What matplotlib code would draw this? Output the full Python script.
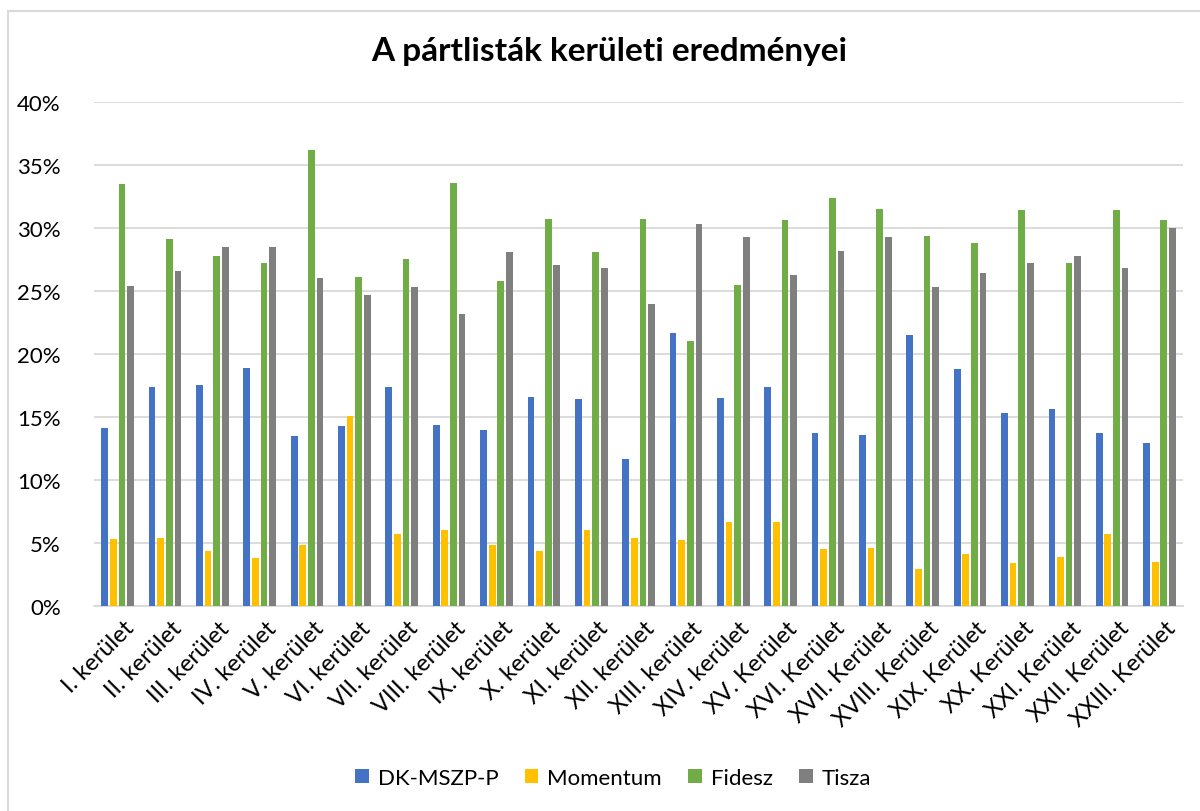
#!/usr/bin/env python3
# -*- coding: utf-8 -*-

import matplotlib
matplotlib.use("Agg")
import matplotlib.pyplot as plt
from matplotlib.patches import Rectangle
from matplotlib.ticker import FuncFormatter
import numpy as np

districts = ["I. kerület", "II. kerület", "III. kerület", "IV. kerület", "V. kerület",
             "VI. kerület", "VII. kerület", "VIII. kerület", "IX. kerület", "X. kerület",
             "XI. kerület", "XII. kerület", "XIII. kerület", "XIV. kerület", "XV. Kerület",
             "XVI. Kerület", "XVII. Kerület", "XVIII. Kerület", "XIX. Kerület", "XX. Kerület",
             "XXI. Kerület", "XXII. Kerület", "XXIII. Kerület"]

dk = [14.1, 17.4, 17.5, 18.9, 13.5, 14.3, 17.4, 14.4, 14.0, 16.6, 16.4, 11.7,
      21.7, 16.5, 17.4, 13.7, 13.6, 21.5, 18.8, 15.3, 15.6, 13.7, 12.9]
momentum = [5.3, 5.4, 4.4, 3.8, 4.8, 15.1, 5.7, 6.0, 4.8, 4.4, 6.0, 5.4,
            5.2, 6.7, 6.7, 4.5, 4.6, 2.9, 4.1, 3.4, 3.9, 5.7, 3.5]
fidesz = [33.5, 29.1, 27.8, 27.2, 36.2, 26.1, 27.5, 33.6, 25.8, 30.7, 28.1, 30.7,
          21.0, 25.5, 30.6, 32.4, 31.5, 29.4, 28.8, 31.4, 27.2, 31.4, 30.6]
tisza = [25.4, 26.6, 28.5, 28.5, 26.0, 24.7, 25.3, 23.2, 28.1, 27.1, 26.8, 24.0,
         30.3, 29.3, 26.3, 28.2, 29.3, 25.3, 26.4, 27.2, 27.8, 26.8, 30.0]

series = [("DK-MSZP-P", dk, "#4472C4"),
          ("Momentum", momentum, "#FFC000"),
          ("Fidesz", fidesz, "#70AD47"),
          ("Tisza", tisza, "#7F7F7F")]

plt.rcParams["font.family"] = ["Lato", "DejaVu Sans"]

fig = plt.figure(figsize=(12, 8.12), dpi=100)
ax = fig.add_axes([0.0783, 0.2525, 0.9077, 0.6207])

x = np.arange(len(districts))
pitch = 0.182
width = 0.142
for j, (name, vals, col) in enumerate(series):
    ax.bar(x + (j - 1.5) * pitch, np.array(vals) / 100.0, width=width, color=col,
           label=name, zorder=3)

ax.set_xlim(-0.5, len(districts) - 0.5)
ax.set_ylim(0, 0.40)
ax.set_yticks(np.arange(0, 0.401, 0.05))
ax.yaxis.set_major_formatter(FuncFormatter(lambda v, p: "%d%%" % round(v * 100)))
ax.grid(True, axis="y", color="#d9d9d9", lw=1.3, zorder=0)
for s in ["top", "right", "left"]:
    ax.spines[s].set_visible(False)
ax.spines["bottom"].set_color("#d9d9d9")
ax.spines["bottom"].set_linewidth(1.3)
ax.tick_params(axis="both", length=0, colors="black")
ax.tick_params(axis="y", pad=24, labelsize=16)
ax.set_xticks(x + 0.12)
ax.set_xticklabels(districts, rotation=45, ha="right", rotation_mode="anchor")
ax.tick_params(axis="x", pad=8, labelsize=17)

fig.text(0.508, 0.936, "A pártlisták kerületi eredményei", ha="center", va="center",
         fontsize=24, fontweight="bold")

ax.legend(loc="center", bbox_to_anchor=(0.511, 1 - 779 / 812.0),
          bbox_transform=fig.transFigure, ncol=4, frameon=False, fontsize=16,
          handlelength=0.6, handleheight=0.6, handletextpad=0.4, columnspacing=1.2)

fig.add_artist(Rectangle((8 / 1200.0, -0.05), 1.1, 1 - 12 / 812.0 + 0.05,
                         transform=fig.transFigure, fill=False,
                         edgecolor="#d9d9d9", lw=1.5))

fig.savefig("out.png")
